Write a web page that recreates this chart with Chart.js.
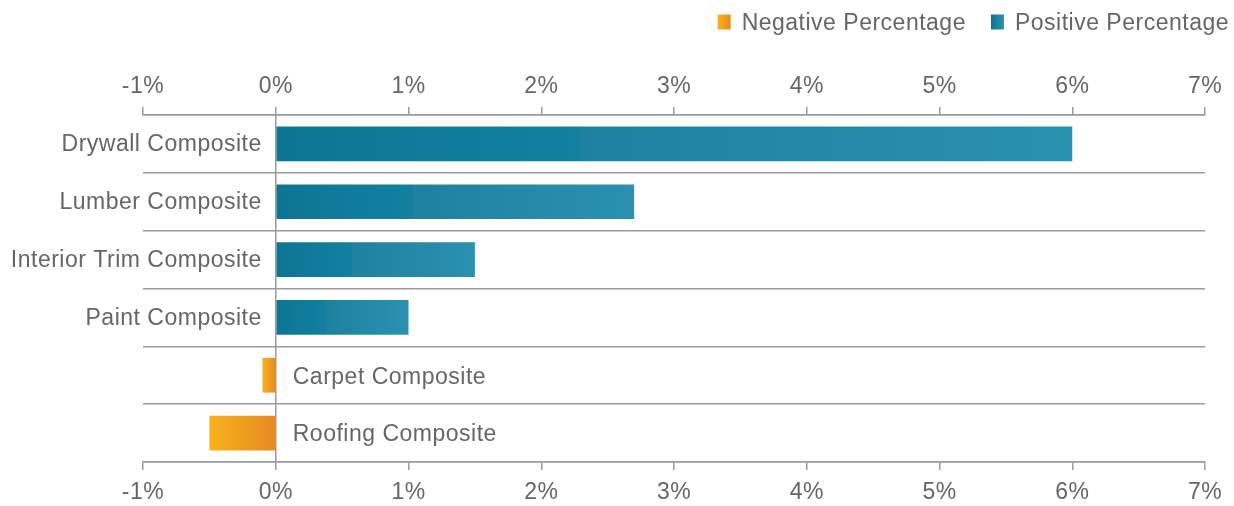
<!DOCTYPE html>
<html>
<head>
<meta charset="utf-8">
<script src="https://cdn.jsdelivr.net/npm/chart.js@4/dist/chart.umd.min.js"></script>
<style>
html,body{margin:0;padding:0;background:#fff;}
#wrap{width:1234px;height:506px;position:relative;}
</style>
</head>
<body>
<div id="wrap"><canvas id="c"></canvas></div>
<script>
const categories = ['Drywall Composite', 'Lumber Composite', 'Interior Trim Composite', 'Paint Composite', 'Carpet Composite', 'Roofing Composite'];
const negativeValues = [null, null, null, null, -0.1, -0.5];
const positiveValues = [6.0, 2.7, 1.5, 1.0, null, null];
const seriesNames = ['Negative Percentage', 'Positive Percentage'];
const axisMin = -1;
const axisMax = 7;
const axisStep = 1;

const FONT = '"Liberation Sans", Arial, Helvetica, sans-serif';
const TEXT = '#666666';
const LINE = '#9a9a9a';
const LETTER = '0.5px';
const FSIZE = 23;

function tealStops(g) {
  g.addColorStop(0, '#0c7594');
  g.addColorStop(0.38, '#13809f');
  g.addColorStop(0.385, '#1e819f');
  g.addColorStop(1, '#2b91b0');
}
function orangeStops(g) {
  g.addColorStop(0, '#e58b22');
  g.addColorStop(1, '#f9b11c');
}

function barFill(stops, fallback) {
  return function (ctx) {
    const chart = ctx.chart;
    if (!chart.chartArea || ctx.type !== 'data' || ctx.raw == null) return fallback;
    const xs = chart.scales.x;
    const x0 = xs.getPixelForValue(0);
    const x1 = xs.getPixelForValue(ctx.raw);
    if (x0 === x1) return fallback;
    const g = chart.ctx.createLinearGradient(x0, 0, x1, 0);
    stops(g);
    return g;
  };
}

const spacingPlugin = {
  id: 'spacing',
  beforeUpdate(chart) { chart.ctx.letterSpacing = LETTER; },
  beforeDraw(chart) { chart.ctx.letterSpacing = LETTER; }
};

const categoryLabels = {
  id: 'categoryLabels',
  afterDatasetsDraw(chart) {
    const ctx = chart.ctx;
    const xs = chart.scales.x, ys = chart.scales.y;
    const x0 = xs.getPixelForValue(0);
    ctx.save();
    ctx.letterSpacing = LETTER;
    ctx.font = FSIZE + 'px ' + FONT;
    ctx.fillStyle = TEXT;
    ctx.textBaseline = 'middle';
    categories.forEach((name, i) => {
      const v = positiveValues[i] != null ? positiveValues[i] : negativeValues[i];
      const y = ys.getPixelForValue(i) + 1;
      if (v >= 0) {
        ctx.textAlign = 'right';
        ctx.fillText(name, x0 - 14, y);
      } else {
        ctx.textAlign = 'left';
        ctx.fillText(name, x0 + 17, y + 1);
      }
    });
    ctx.restore();
  }
};

const customLegend = {
  id: 'customLegend',
  afterDraw(chart) {
    const ctx = chart.ctx;
    ctx.save();
    ctx.letterSpacing = LETTER;
    ctx.font = FSIZE + 'px ' + FONT;
    ctx.textBaseline = 'middle';
    ctx.textAlign = 'left';
    const yMid = 23.5;
    const bw = 13, bh = 15;
    let right = 1229;
    const stops = [orangeStops, tealStops];
    for (let i = seriesNames.length - 1; i >= 0; i--) {
      const w = ctx.measureText(seriesNames[i]).width;
      const tx = right - w;
      const bx = tx - 11 - bw;
      const g = ctx.createLinearGradient(i === 0 ? bx + bw : bx, 0, i === 0 ? bx : bx + bw, 0);
      stops[i](g);
      ctx.fillStyle = g;
      ctx.fillRect(bx, yMid - 1.5 - bh / 2, bw, bh);
      ctx.fillStyle = TEXT;
      ctx.fillText(seriesNames[i], tx, yMid);
      right = bx - 25;
    }
    ctx.restore();
  }
};

const tickFont = { size: FSIZE, family: FONT };
const tickCb = v => v + '%';

new Chart(document.getElementById('c'), {
  type: 'bar',
  data: {
    labels: categories,
    datasets: [
      {
        label: seriesNames[0],
        data: negativeValues,
        backgroundColor: barFill(orangeStops, '#ef9e20'),
        borderWidth: 0,
        grouped: false,
        barPercentage: 0.6,
        categoryPercentage: 1.0
      },
      {
        label: seriesNames[1],
        data: positiveValues,
        backgroundColor: barFill(tealStops, '#1a84a3'),
        borderWidth: 0,
        grouped: false,
        barPercentage: 0.6,
        categoryPercentage: 1.0
      }
    ]
  },
  options: {
    indexAxis: 'y',
    responsive: true,
    maintainAspectRatio: false,
    animation: false,
    layout: { padding: { left: 143, right: 29, top: 0, bottom: 0 } },
    plugins: {
      legend: { display: false },
      tooltip: { enabled: false }
    },
    scales: {
      x: {
        type: 'linear',
        position: 'bottom',
        min: axisMin, max: axisMax,
        ticks: { stepSize: axisStep, callback: tickCb, color: TEXT, font: tickFont, padding: 9, maxRotation: 0 },
        grid: {
          drawOnChartArea: true,
          color: c => (c.tick && c.tick.value === 0) ? LINE : 'rgba(0,0,0,0)',
          tickColor: LINE,
          tickLength: 8,
          lineWidth: 1.5
        },
        border: { color: LINE, width: 1.5 },
        afterFit: s => { s.height = 44; }
      },
      x2: {
        type: 'linear',
        axis: 'x',
        position: 'top',
        min: axisMin, max: axisMax,
        ticks: { stepSize: axisStep, callback: tickCb, color: TEXT, font: tickFont, padding: 7, maxRotation: 0 },
        grid: { drawOnChartArea: false, tickColor: LINE, tickLength: 8, lineWidth: 1.5 },
        border: { color: LINE, width: 1.5 },
        afterFit: s => { s.height = 115; }
      },
      y: {
        type: 'category',
        position: 'left',
        offset: true,
        grid: { offset: true, color: LINE, drawTicks: false, lineWidth: 1.5 },
        ticks: { display: false },
        border: { display: false }
      }
    }
  },
  plugins: [spacingPlugin, categoryLabels, customLegend]
});
</script>
</body>
</html>
